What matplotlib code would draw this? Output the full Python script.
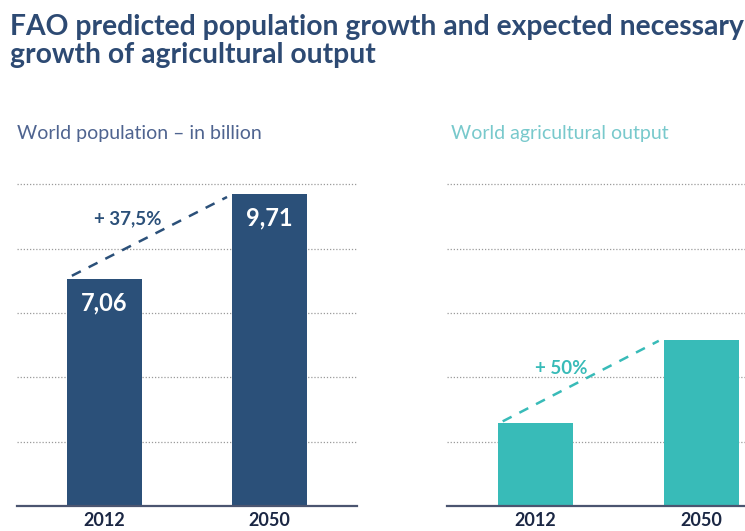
import matplotlib
matplotlib.use("Agg")
import matplotlib.pyplot as plt
import numpy as np
from matplotlib import font_manager

# ---- data ----
years = ["2012", "2050"]
population = [7.06, 9.71]            # billion
population_labels = ["7,06", "9,71"]
population_growth_label = "+ 37,5%"
output_index = [100, 150]            # world agricultural output, index
output_growth_label = "+ 50%"

title = "FAO predicted population growth and expected necessary\ngrowth of agricultural output"
left_sub = "World population \u2013 in billion"
right_sub = "World agricultural output"

NAVY = "#2b5079"
TEAL = "#38bbb8"
TITLE_C = "#2d4a73"
YEAR_C = "#1b2744"

names = {f.name for f in font_manager.fontManager.ttflist}
body = "Lato" if "Lato" in names else "DejaVu Sans"
FAM = [body, "DejaVu Sans"]

W, H = 745, 531
fig = plt.figure(figsize=(W / 100, H / 100), dpi=100)

def axrect(x0, x1, ytop, ybot):
    return [x0 / W, 1 - ybot / H, (x1 - x0) / W, (ybot - ytop) / H]

ax1 = fig.add_axes(axrect(17, 357, 168.4, 506))
ax2 = fig.add_axes(axrect(447, 745, 168.4, 506))

bw = 0.455
x = np.arange(len(years))

def style(ax, ylim):
    ax.set_ylim(*ylim)
    lo, hi = ylim
    ticks = lo + (hi - lo) * np.array([2, 4, 6, 8, 10]) / 10.5
    for t in ticks:
        ax.axhline(t, color="#9a9a9a", lw=0.9, ls=(0, (1, 1.5)), zorder=0)
    for s in ["top", "right", "left"]:
        ax.spines[s].set_visible(False)
    ax.spines["bottom"].set_color("#4b5570")
    ax.spines["bottom"].set_linewidth(1.6)
    ax.set_yticks([])
    ax.set_xticks(x)
    ax.set_xticklabels(years, fontsize=13, fontweight="bold", color=YEAR_C, family=FAM)
    ax.tick_params(axis="x", length=0, pad=4)

# left panel
ax1.set_xlim(-0.53, 1.53)
style(ax1, (0, 10.5))
ax1.bar(x, population, width=bw, color=NAVY, zorder=2)
for xi, v, lab in zip(x, population, population_labels):
    ax1.text(xi, v - 0.4, lab, ha="center", va="top", color="white",
             fontsize=17, fontweight="bold", family=FAM, zorder=3)
ax1.plot([x[0] - bw / 2 + 0.03, x[1] - bw / 2 - 0.03],
         [population[0] + 0.1, population[1] - 0.1],
         color=NAVY, lw=1.8, ls=(0, (4, 3.5)), zorder=3)
ax1.text(0.14, 8.93, population_growth_label, ha="center", va="center",
         color=NAVY, fontsize=13.5, fontweight="bold", family=FAM)

# right panel
ax2.set_xlim(-0.533, 1.262)
lo2 = 50.0
hi2 = lo2 + 50 * 337.6 / 83.0
style(ax2, (lo2, hi2))
ax2.bar(x, output_index, width=bw, color=TEAL, zorder=2)
ax2.plot([x[0] - bw / 2 + 0.03, x[1] - bw / 2 - 0.03],
         [output_index[0] + 1, output_index[1] - 0.5],
         color=TEAL, lw=1.8, ls=(0, (4, 3.5)), zorder=3)
ax2.text(0.155, lo2 + (506 - 368) / 1.66, output_growth_label, ha="center", va="center",
         color=TEAL, fontsize=13.5, fontweight="bold", family=FAM)

# titles
fig.text(10 / W, 1 - 14 / H, title, ha="left", va="top", color=TITLE_C,
         fontsize=20.3, fontweight="bold", family=FAM, linespacing=1.1)
fig.text(17 / W, 1 - 133 / H, left_sub, ha="left", va="center", color="#4f6490",
         fontsize=14, fontweight="normal", family=FAM)
fig.text(451 / W, 1 - 133 / H, right_sub, ha="left", va="center", color="#78c9cc",
         fontsize=14, fontweight="normal", family=FAM)

fig.savefig("out.png", dpi=100)
